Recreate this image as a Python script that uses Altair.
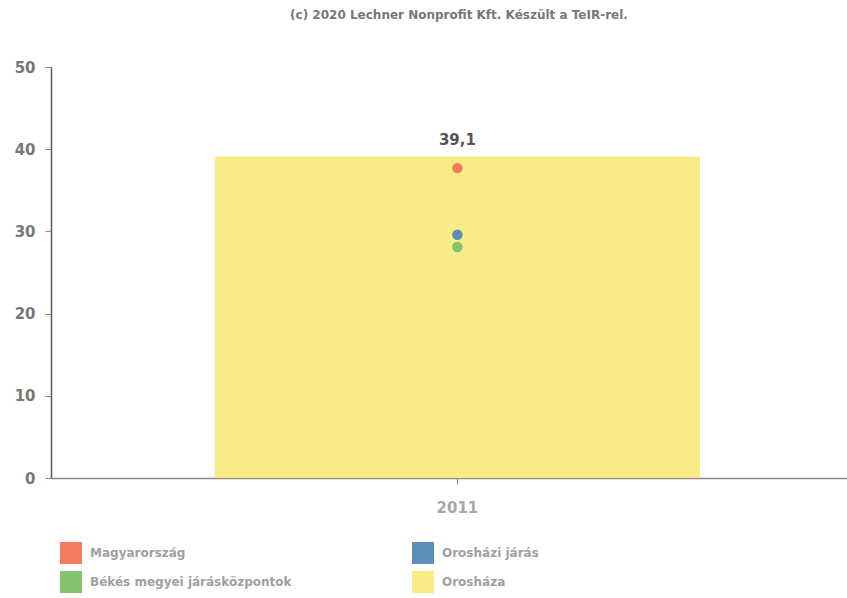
import altair as alt
import pandas as pd

# Series shown for the year 2011
years = ["2011"]
series = ["Magyarország", "Békés megyei járásközpontok", "Orosházi járás", "Orosháza"]
colors = ["#f47c5e", "#84c36e", "#5b8db5", "#f8ec86"]

bar_series = "Orosháza"
bar_value = 39.1
point_series = ["Békés megyei járásközpontok", "Orosházi járás", "Magyarország"]
point_values = [28.1, 29.6, 37.7]

bar_df = pd.DataFrame({"year": years, "series": [bar_series], "value": [bar_value],
                       "label": [f"{bar_value:.1f}".replace(".", ",")]})
pt_df = pd.DataFrame({"year": years * len(point_series), "series": point_series,
                      "value": point_values})

FONT = "DejaVu Sans"

color = alt.Color(
    "series:N",
    scale=alt.Scale(domain=series, range=colors),
    legend=alt.Legend(
        title=None, orient="none", legendX=9, legendY=475, columns=2,
        columnPadding=120, rowPadding=7, symbolType="square", symbolSize=484,
        symbolStrokeWidth=0, symbolOpacity=1, labelFont=FONT, labelFontSize=12,
        labelFontWeight="bold", labelColor="#a0a0a0", labelLimit=400, labelOffset=8,
        direction="vertical",
    ),
)

x = alt.X(
    "year:N",
    scale=alt.Scale(paddingInner=0, paddingOuter=0.32, align=0.527),
    axis=alt.Axis(title=None, labelAngle=0, labelFont=FONT, labelFontSize=15,
                  labelFontWeight="bold", labelColor="#a8a8a8", labelPadding=16,
                  domainColor="#8a8a8a", domainWidth=1.5, tickColor="#8a8a8a",
                  tickSize=6, grid=False),
)
y = alt.Y(
    "value:Q",
    scale=alt.Scale(domain=[0, 50], nice=False),
    axis=alt.Axis(title=None, values=[0, 10, 20, 30, 40, 50], labelFont=FONT,
                  labelFontSize=15, labelFontWeight="bold", labelColor="#777777",
                  labelPadding=10, domainColor="#5a5a5a", domainWidth=1.5,
                  tickColor="#8a8a8a", tickSize=6, grid=False),
)

bars = alt.Chart(bar_df).mark_bar(opacity=1).encode(x=x, y=y, color=color)

labels = alt.Chart(bar_df).mark_text(
    dy=-17, font=FONT, fontSize=15, fontWeight="bold", color="#555555"
).encode(x="year:N", y="value:Q", text="label:N")

points = alt.Chart(pt_df).mark_circle(size=110, opacity=1).encode(
    x="year:N", y="value:Q", color=color,
    order=alt.Order("value:Q", sort="ascending"),
)

chart = (
    alt.layer(bars, points, labels)
    .properties(
        width=796, height=411,
        autosize=alt.AutoSizeParams(type="none"),
        padding={"left": 51, "top": 67, "right": 0, "bottom": 120},
        background="white",
        title=alt.TitleParams(
            "(c) 2020 Lechner Nonprofit Kft. Készült a TeIR-rel.",
            font=FONT, fontSize=12, fontWeight="bold", color="#777777",
            anchor="middle", offset=38, dx=10,
        ),
    )
    .configure_view(stroke=None, strokeWidth=0)
)

chart.save("out.html", embed_options={"renderer": "svg", "actions": False})
